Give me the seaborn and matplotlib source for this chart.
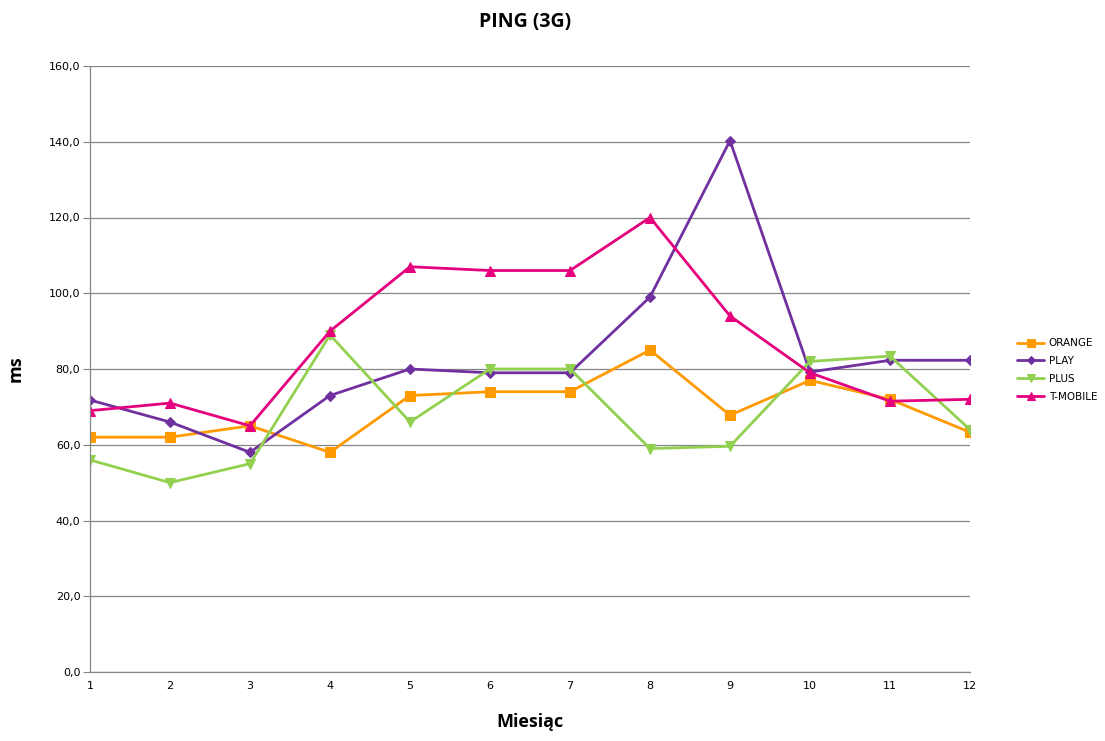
import pandas as pd
import matplotlib.pyplot as plt
import seaborn as sns
from matplotlib.ticker import FuncFormatter

sns.set_style("white")
plt.rcParams["text.color"] = "black"
plt.rcParams["axes.labelcolor"] = "black"
plt.rcParams["xtick.color"] = "black"
plt.rcParams["ytick.color"] = "black"

# Dane
miesiace = list(range(1, 13))
orange = [62, 62, 65, 58, 73, 74, 74, 85, 67.8, 77, 72, 63.3]
play = [71.8, 66, 58, 73, 80, 79, 79, 99, 140.3, 79.2, 82.3, 82.3]
plus = [56, 50, 55, 89, 66, 80, 80, 59, 59.6, 82, 83.4, 64]
tmobile = [69, 71, 65, 90, 107, 106, 106, 120, 94, 79, 71.5, 72]

operatorzy = ["ORANGE", "PLAY", "PLUS", "T-MOBILE"]
kolory = ["#FF9A00", "#7030A0", "#92D050", "#E5007D"]
markery = ["s", "D", "v", "^"]
rozmiary = [6.5, 5.5, 7, 7]

df = pd.DataFrame({"Miesiąc": miesiace, "ORANGE": orange, "PLAY": play,
                   "PLUS": plus, "T-MOBILE": tmobile})

fig = plt.figure(figsize=(11.05, 7.41), dpi=100)
ax = fig.add_axes([90 / 1105, 1 - 672 / 741, 880 / 1105, 606 / 741])

for op, kol, mk, ms in zip(operatorzy, kolory, markery, rozmiary):
    sns.lineplot(ax=ax, data=df, x="Miesiąc", y=op, color=kol, marker=mk,
                 markersize=ms, markeredgecolor=kol, linewidth=2.0, label=op)

ax.set_xlim(1, 12)
ax.set_ylim(0, 160)
ax.set_xticks(miesiace)
ax.set_yticks(range(0, 161, 20))
ax.yaxis.set_major_formatter(FuncFormatter(lambda v, p: f"{v:.1f}".replace(".", ",")))
ax.yaxis.grid(True, color="#868686", linewidth=0.9)
ax.xaxis.grid(False)
for s in ["top", "right"]:
    ax.spines[s].set_visible(False)
for s in ["left", "bottom"]:
    ax.spines[s].set_color("#868686")
    ax.spines[s].set_linewidth(0.9)
ax.tick_params(axis="y", which="major", left=True, length=5, color="#868686",
               labelsize=8, pad=2)
ax.tick_params(axis="x", bottom=False, labelsize=8, pad=3)

ax.set_xlabel("Miesiąc", fontsize=13, fontweight="bold", family=["Open Sans", "DejaVu Sans"])
ax.set_ylabel("ms", fontsize=13, fontweight="bold", family=["Open Sans", "DejaVu Sans"])
ax.xaxis.set_label_coords(0.5, -(722 - 672) / 606)
ax.yaxis.set_label_coords(-(90 - 16) / 880, 0.5)
ax.xaxis.label.set_va("center")
ax.yaxis.label.set_va("center")
fig.suptitle("PING (3G)", x=525 / 1105, y=1 - 22 / 741, fontsize=14, fontweight="bold",
             family=["Open Sans", "DejaVu Sans"], va="center")

h, l = ax.get_legend_handles_labels()
ax.legend_.remove()
fig.legend(h, l, loc="center left", bbox_to_anchor=(1008 / 1105, 1 - 370 / 741),
           frameon=False, fontsize=7.5, handlelength=2.6, labelspacing=0.75,
           handletextpad=0.4, markerscale=0.8)

plt.savefig("out.png", dpi=100)
